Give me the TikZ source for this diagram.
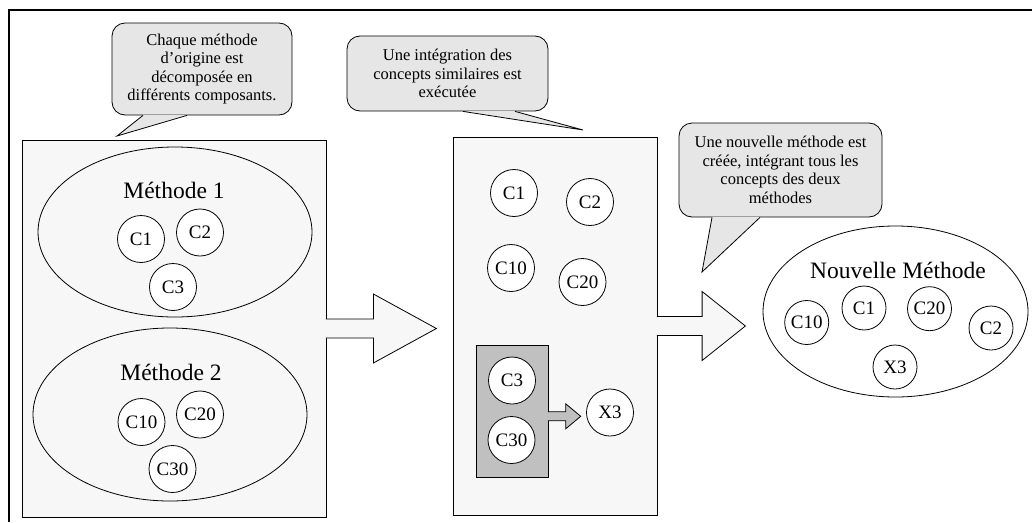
\documentclass[tikz,border=0pt]{standalone}
\usepackage{fontspec}
\setmainfont{Liberation Serif}
\usepackage{tikz}
\usetikzlibrary{shapes.geometric}

\definecolor{panelgray}{HTML}{F7F7F7}
\definecolor{notegray}{HTML}{E6E6E6}
\definecolor{pairgray}{HTML}{C0C0C0}

\begin{document}
\begin{tikzpicture}[
    x=1pt, y=-1pt,
    line width=.8pt,
    panel/.style={
      draw,
      fill=panelgray,
      inner sep=0pt},
    method/.style={
      draw,
      ellipse,
      inner sep=0pt},
    concept/.style={
      draw,
      circle,
      fill=white,
      inner sep=0pt,
      minimum size=47pt,
      font=\fontsize{19}{19}\selectfont},
    title/.style={
      anchor=base,
      font=\fontsize{23.5}{24}\selectfont},
    note/.style={
      draw,
      fill=notegray,
      rounded corners=13pt,
      align=center,
      inner sep=0pt,
      font=\fontsize{16.5}{18.5}\selectfont},
    blockarrow/.style={
      draw,
      fill=panelgray,
      line join=miter},
  ]
  \useasboundingbox (0,0) rectangle (1032,522);
  \draw[line width=1.2pt] (1032,10) -- (9,10) -- (9,522);

  \node[note, minimum width=180pt, minimum height=92pt] (note1) at (202,69)
    {Chaque méthode\\d’origine est\\décomposée en\\différents composants.};
  \coordinate (tip1) at (117,136);
  \fill[notegray] ([xshift=-59pt,yshift=.6pt]note1.south) -- (tip1) -- ([xshift=-15pt,yshift=.6pt]note1.south) -- cycle;
  \draw ([xshift=-59pt]note1.south) -- (tip1) -- ([xshift=-15pt]note1.south);

  \node[note, minimum width=201pt, minimum height=75pt] (note2) at (447.5,73.5)
    {Une intégration des\\concepts similaires est\\exécutée};
  \coordinate (tip2) at (583,130);
  \fill[notegray] ([xshift=15.5pt,yshift=.6pt]note2.south) -- (tip2) -- ([xshift=67.5pt,yshift=.6pt]note2.south) -- cycle;
  \draw ([xshift=15.5pt]note2.south) -- (tip2) -- ([xshift=67.5pt]note2.south);

  \node[note, minimum width=203pt, minimum height=94pt] (note3) at (780.5,170)
    {Une nouvelle méthode est\\créée, intégrant tous les\\concepts des deux\\méthodes};
  \coordinate (tip3) at (702,272);
  \fill[notegray] ([xshift=-68.5pt,yshift=.6pt]note3.south) -- (tip3) -- ([xshift=-20.5pt,yshift=.6pt]note3.south) -- cycle;
  \draw ([xshift=-68.5pt]note3.south) -- (tip3) -- ([xshift=-20.5pt]note3.south);

  \node[panel, minimum width=304pt, minimum height=377pt] (split) at (174,328.5) {};
  \node[method, minimum width=274pt, minimum height=170pt] (m1) at (175,232) {};
  \node[title] (m1title) at (174,198) {Méthode 1};
  \node[concept] (m1c1) at (141,239) {C1};
  \node[concept] (m1c2) at (200,232.5) {C2};
  \node[concept] (m1c3) at (173,287) {C3};
  \node[method, minimum width=274pt, minimum height=173pt] (m2) at (170,414.5) {};
  \node[title] (m2title) at (171,380) {Méthode 2};
  \node[concept] (m2c10) at (141.5,422) {C10};
  \node[concept] (m2c20) at (200,414.5) {C20};
  \node[concept] (m2c30) at (172.5,469) {C30};
  \filldraw[blockarrow] ([xshift=-.6pt,yshift=9.5pt]split.east) -- ++(47.6,0) -- ++(0,-25)
    -- ++(63,34.5) -- ++(-63,34.5) -- ++(0,-25) -- ++(-47.6,0);

  \node[panel, minimum width=204pt, minimum height=378pt] (merge) at (555,326) {};
  \node[concept] (c1) at (514,193) {C1};
  \node[concept] (c2) at (590,202) {C2};
  \node[concept] (c10) at (511,268) {C10};
  \node[concept] (c20) at (582.5,282) {C20};
  \node[panel, fill=pairgray, minimum width=72pt, minimum height=132pt] (pair) at (512,411) {};
  \node[concept] (c3) at (512,380.5) {C3};
  \node[concept] (c30) at (511.5,440) {C30};
  \filldraw[blockarrow, fill=pairgray] ([xshift=-.6pt,yshift=-.8pt]pair.east) -- ++(17.9,0) -- ++(0,-8)
    -- ++(15,12.5) -- ++(-15,12.5) -- ++(0,-8) -- ++(-17.9,0);
  \node[concept] (x3) at (610,412.5) {X3};
  \filldraw[blockarrow] ([xshift=-.6pt,yshift=9.5pt]merge.east) -- ++(45.3,0) -- ++(0,-25)
    -- ++(43.3,34.5) -- ++(-43.3,34.5) -- ++(0,-25) -- ++(-45.3,0);

  \node[method, fill=white, minimum width=265pt, minimum height=171pt] (new) at (895.5,311.5) {};
  \node[title] (newtitle) at (898,278) {Nouvelle Méthode};
  \node[concept, minimum size=44pt] (n10) at (806.7,322.5) {C10};
  \node[concept, minimum size=44pt] (n1) at (864,308) {C1};
  \node[concept, minimum size=44pt] (n20) at (929.5,308.7) {C20};
  \node[concept, minimum size=44pt] (n2) at (991,328) {C2};
  \node[concept, minimum size=44pt] (nx3) at (895,367) {X3};
\end{tikzpicture}
\end{document}
